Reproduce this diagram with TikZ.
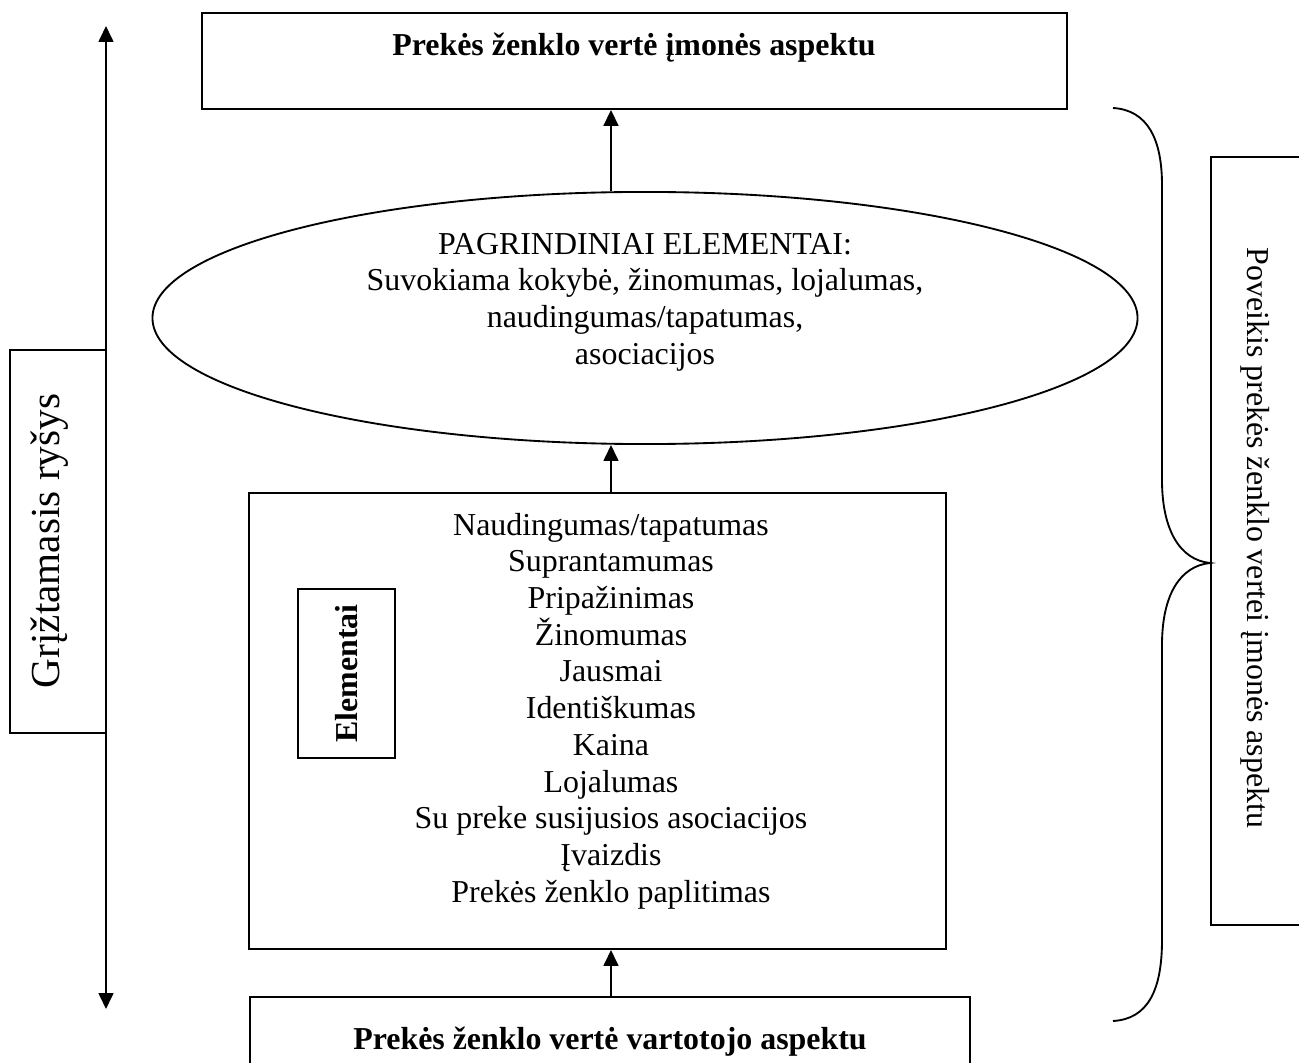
\documentclass[tikz,border=0pt]{standalone}
\usepackage{fontspec}
\setmainfont{Liberation Serif}
\usetikzlibrary{arrows.meta,shapes.geometric}
\begin{document}
\begin{tikzpicture}[x=0.376pt,y=-0.376pt,
  line width=0.7pt,
  frame/.style={draw,line width=0.7pt,inner sep=0pt,rectangle},
  tip/.style={-{Triangle[length=6pt,width=5.6pt]}},
  twotip/.style={{Triangle[length=6pt,width=5.6pt]}-{Triangle[length=6pt,width=5.6pt]}},
  txt/.style={font=\fontsize{12pt}{13.8pt}\selectfont,align=center,inner sep=0pt},
  btxt/.style={font=\fontsize{12pt}{13.8pt}\selectfont\bfseries,align=center,inner sep=0pt},
]
\useasboundingbox (0,0) rectangle (1299,1063);
\clip (0,0) rectangle (1299,1063);

% frames
\node[frame,minimum width=325.2pt,minimum height=36.1pt] (top) at (634.5,61) {};
\node[draw,ellipse,line width=0.7pt,inner sep=0pt,minimum width=370.4pt,minimum height=94.8pt] (ell) at (645,318) {};
\node[frame,minimum width=262.1pt,minimum height=171.5pt] (main) at (597.5,721) {};
\node[frame,minimum width=270.7pt,minimum height=36.1pt] (bottom) at (610,1045) {};
\node[frame,minimum width=36.1pt,minimum height=144pt] (fbbox) at (58,541.5) {};
\node[frame,minimum width=36.5pt,minimum height=63.5pt] (elbox) at (346.5,673.5) {};
\node[frame,minimum width=37.2pt,minimum height=288.8pt] (effbox) at (1260.5,541) {};

% texts
\node[btxt] (toptext) at (634,48) {Prekės ženklo vertė įmonės aspektu};
\node[txt] (elltext) at (645,302) {PAGRINDINIAI ELEMENTAI:\\Suvokiama kokybė, žinomumas, lojalumas,\\naudingumas/tapatumas,\\asociacijos};
\node[txt] (maintext) at (611,711) {Naudingumas/tapatumas\\Suprantamumas\\Pripažinimas\\Žinomumas\\Jausmai\\Identiškumas\\Kaina\\Lojalumas\\Su preke susijusios asociacijos\\Įvaizdis\\Prekės ženklo paplitimas};
\node[btxt] (bottomtext) at (610,1042) {Prekės ženklo vertė vartotojo aspektu};
\node[btxt,rotate=90] (eltext) at (346.5,673.5) {Elementai};
\node[txt,font=\fontsize{15.5pt}{18pt}\selectfont,rotate=90] (fbtext) at (50,541) {Grįžtamasis ryšys};
\node[txt,rotate=-90] (efftext) at (1255,538) {Poveikis prekės ženklo vertei įmonės aspektu};

% connectors
\coordinate (axis) at (611,0);
\draw[tip] (axis |- bottom.north) -- (axis |- main.south);
\draw[tip] (axis |- main.north) -- (axis |- ell.south);
\draw[tip] (axis |- ell.north) -- (axis |- top.south);

\coordinate (fbup) at (106,26);
\coordinate (fbdown) at (106,1009);
\draw[twotip] (fbup) -- (fbdown);

% brace
\coordinate (brtop) at (1113,108);
\coordinate (brbot) at (1113,1021);
\draw (brtop) .. controls (1148,110) and (1162,140) .. (1162,185)
  -- (1162,480) .. controls (1162,530) and (1180,560) .. (effbox.west |- 0,563)
  .. controls (1180,566) and (1162,595) .. (1162,645)
  -- (1162,940) .. controls (1162,990) and (1148,1019) .. (brbot);
\end{tikzpicture}
\end{document}
